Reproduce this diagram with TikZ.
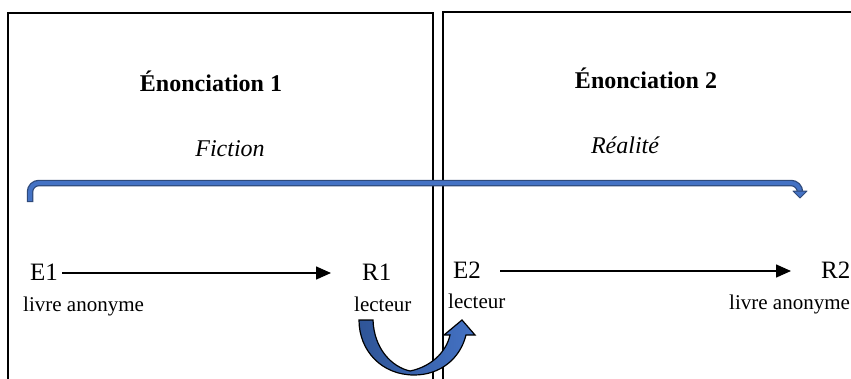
\documentclass[tikz,border=0pt]{standalone}
\usepackage{fontspec}
\setmainfont{Liberation Serif}
\usetikzlibrary{arrows.meta}
\definecolor{bblue}{HTML}{4472C4}
\definecolor{bdark}{HTML}{2F4A7A}
\definecolor{bleft}{HTML}{2F5597}
\begin{document}
\begin{tikzpicture}[x=1pt,y=-1pt,
  frame/.style={line width=1.8pt,black},
  title/.style={font=\fontsize{24}{28}\selectfont\bfseries,anchor=base,inner sep=0},
  sub/.style={font=\fontsize{24}{28}\selectfont\itshape,anchor=base,inner sep=0},
  lab/.style={font=\fontsize{25}{29}\selectfont,anchor=base west,inner sep=0},
  small/.style={font=\fontsize{21}{25}\selectfont,anchor=base west,inner sep=0},
  relarrow/.style={line width=1.5pt,-{Triangle[length=15pt,width=13pt]}}]
\useasboundingbox (0,0) rectangle (851,378);
% frames
\draw[frame] (8,380) -- (8,13) -- (433,13);
\draw[frame] (433,380) -- (433,12);
\draw[frame] (443,380) -- (443,12) -- (853,12);
% titles
\node[title] (t1) at (211,91) {Énonciation 1};
\node[title] (t2) at (646,88) {Énonciation 2};
\node[sub] (f1) at (230,156) {Fiction};
\node[sub] (f2) at (625,153) {Réalité};
% blue bracket arrow
\draw[bdark,line width=6.5pt,rounded corners=9pt] (30,202) -- (30,183) -- (800,183) -- (800,191);
\draw[bblue,line width=4pt,rounded corners=9pt,shorten <=1.2pt,shorten >=-0.5pt] (30,202) -- (30,183) -- (800,183) -- (800,191);
\path[fill=bblue,draw=bdark,line width=1pt,line join=round] (793,191) -- (807,191) -- (800,198) -- cycle;
% labels
\node[lab] (E1) at (30,280) {E1};
\node[lab] (R1) at (362,280) {R1};
\node[lab] (E2) at (453,278) {E2};
\node[lab] (R2) at (821,278) {R2};
\coordinate (a1s) at (62,273);
\coordinate (a1e) at (331,273);
\coordinate (a2s) at (500,271);
\coordinate (a2e) at (791,271);
\draw[relarrow] (a1s) -- (a1e);
\draw[relarrow] (a2s) -- (a2e);
\node[small] (l1) at (23,311) {livre anonyme};
\node[small] (l2) at (354,311) {lecteur};
\node[small] (l3) at (448,308) {lecteur};
\node[small] (l4) at (729,309) {livre anonyme};
% curved arrow
\path[left color=bleft,right color=bblue,draw=black,line width=1.2pt,line join=miter]
  (359,320) -- (373,320)
  .. controls (374,349) and (392,367) .. (410,371)
  .. controls (430,367) and (446,353) .. (450,335)
  -- (444,335) -- (462,320) -- (475,335) -- (466,335)
  .. controls (460,359) and (440,375) .. (414,375)
  .. controls (382,375) and (359,351) .. (359,320) -- cycle;
\end{tikzpicture}
\end{document}
